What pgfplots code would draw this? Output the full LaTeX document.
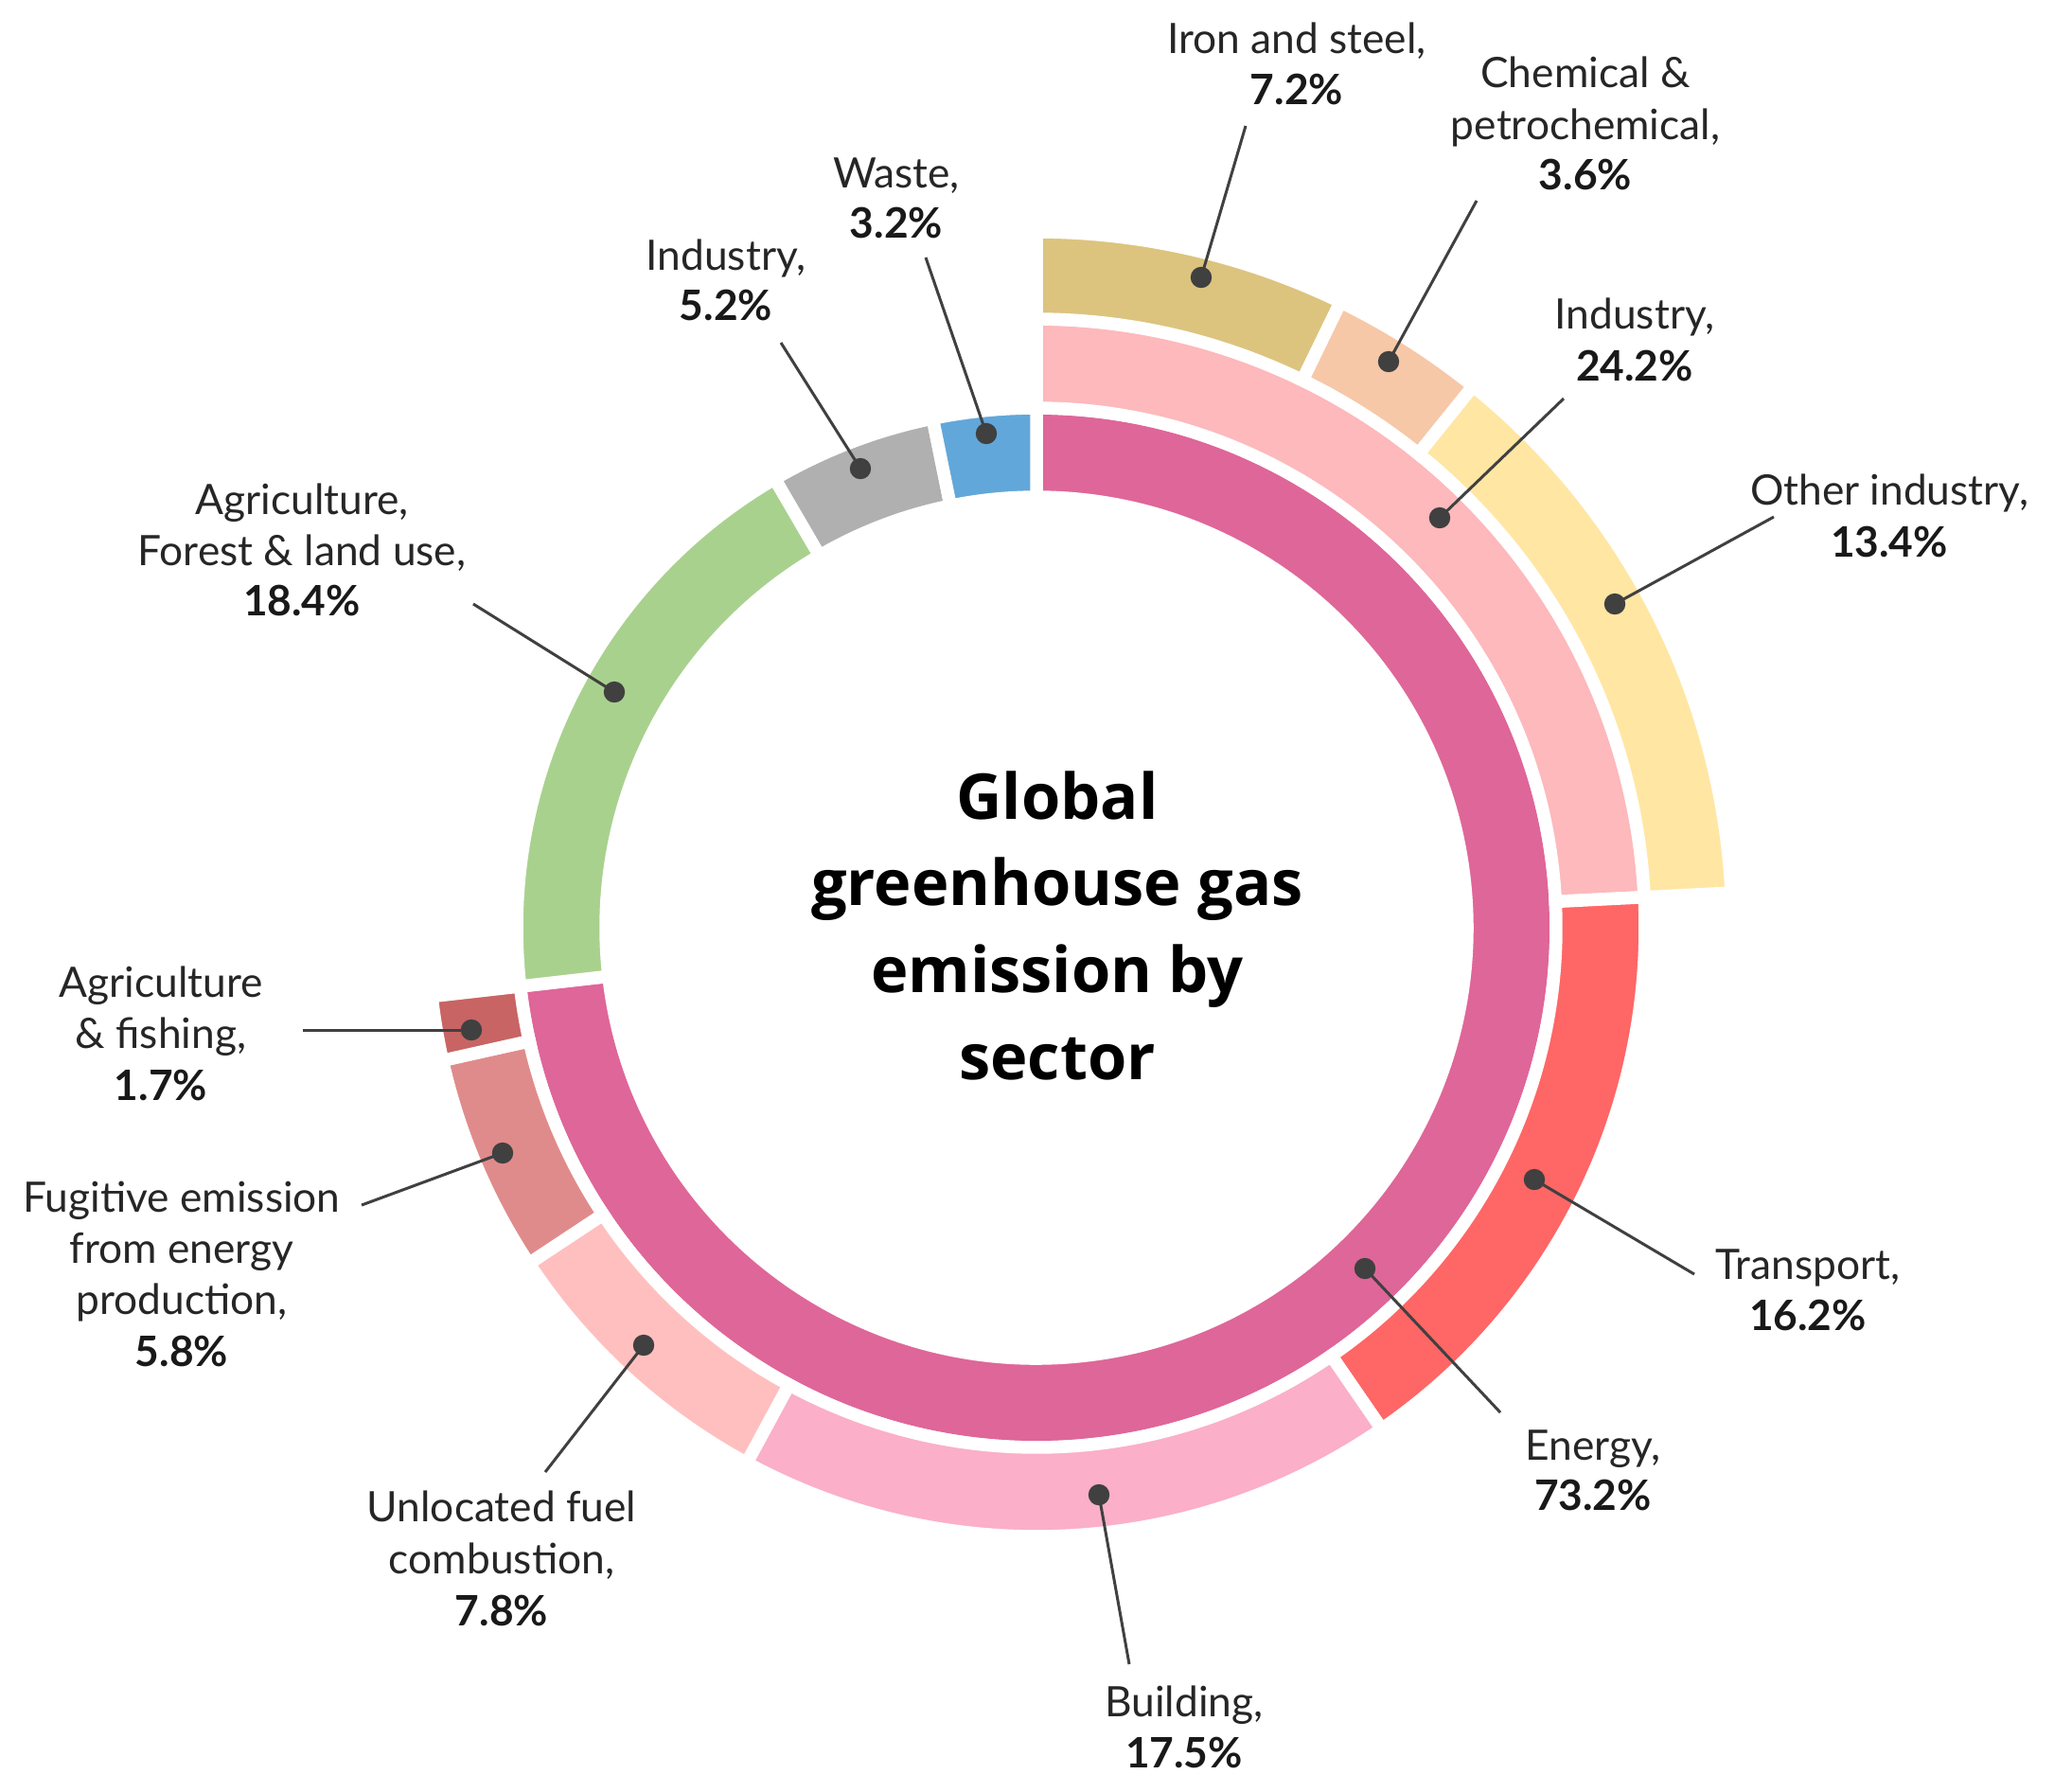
\documentclass[border=0pt]{standalone}
\usepackage{pgfplots}
\pgfplotsset{compat=1.18}
\usepackage{fontspec}
\setmainfont{Lato}
\newfontfamily\tfont{Open Sans}
\usetikzlibrary{calc}

\definecolor{energy}{HTML}{DF6699}
\definecolor{agri}{HTML}{A9D18E}
\definecolor{indgray}{HTML}{B0B0B0}
\definecolor{waste}{HTML}{62A7DA}
\definecolor{indpink}{HTML}{FDB9BC}
\definecolor{transport}{HTML}{FF6666}
\definecolor{building}{HTML}{FBAFC8}
\definecolor{unloc}{HTML}{FFBFBF}
\definecolor{fugitive}{HTML}{E08B8B}
\definecolor{agrifish}{HTML}{C86464}
\definecolor{iron}{HTML}{DCC47F}
\definecolor{chem}{HTML}{F6C8A8}
\definecolor{other}{HTML}{FFE6A3}
\definecolor{dotc}{HTML}{404040}

% running sum of percentages within a ring
\gdef\cum{0}
\newcommand{\seg}[4]{% pct, r_in, r_out, colour
  \pgfmathsetmacro{\aS}{90-3.6*\cum}%
  \pgfmathsetmacro{\aE}{90-3.6*(\cum+#1)}%
  \edef\temp{\noexpand\fill[#4, draw=white, line width=1.35mm, line join=miter]
    ($(axis cs:1095,980)+(\aS:#3)$) arc[start angle=\aS, end angle=\aE, radius=#3]
    -- ($(axis cs:1095,980)+(\aE:#2)$) arc[start angle=\aE, end angle=\aS, radius=#2] -- cycle;}%
  \temp
  \pgfmathsetmacro{\tmp}{\cum+#1}\xdef\cum{\tmp}%
}
\newcommand{\lt}[3]{\node[anchor=base, font=\fontsize{12.6}{15.4}\selectfont, text=black!85] at (axis cs:#1,#2) {#3};}
\newcommand{\lb}[3]{\node[anchor=base, font=\fontsize{12.6}{15.4}\selectfont\bfseries, text=black!90] at (axis cs:#1,#2) {#3};}
\newcommand{\tl}[2]{\node[anchor=base, font=\tfont\fontsize{19}{22}\selectfont\bfseries] at (axis cs:1117,#1) {#2};}

\begin{document}
\begin{tikzpicture}
\begin{axis}[
  scale only axis, width=217mm, height=189.2mm,
  xmin=0, xmax=2170, ymin=0, ymax=1892, y dir=reverse,
  hide axis, clip=false]

% fixed picture frame (invisible)
\path (axis cs:0,0) rectangle (axis cs:2170,1892);

% inner ring
\gdef\cum{0}
\seg{73.2}{45.5mm}{54.9mm}{energy}
\seg{18.4}{45.5mm}{54.9mm}{agri}
\seg{5.2}{45.5mm}{54.9mm}{indgray}
\seg{3.2}{45.5mm}{54.9mm}{waste}
% middle ring (energy breakdown)
\gdef\cum{0}
\seg{24.2}{54.9mm}{64.3mm}{indpink}
\seg{16.2}{54.9mm}{64.3mm}{transport}
\seg{17.5}{54.9mm}{64.3mm}{building}
\seg{7.8}{54.9mm}{64.3mm}{unloc}
\seg{5.8}{54.9mm}{64.3mm}{fugitive}
\seg{1.7}{54.9mm}{64.3mm}{agrifish}
% outer ring (industry breakdown)
\gdef\cum{0}
\seg{7.2}{64.3mm}{73.5mm}{iron}
\seg{3.6}{64.3mm}{73.5mm}{chem}
\seg{13.4}{64.3mm}{73.5mm}{other}

% leader lines
\pgfplotsset{leader/.style={no marks, line width=0.3mm, dotc}}
\addplot[leader] coordinates {(1269,293) (1316,133)};
\addplot[leader] coordinates {(1467,382) (1560,212)};
\addplot[leader] coordinates {(1521,547) (1652,421)};
\addplot[leader] coordinates {(1706,638) (1874,546)};
\addplot[leader] coordinates {(1621,1246) (1790,1346)};
\addplot[leader] coordinates {(1442,1340) (1585,1492)};
\addplot[leader] coordinates {(1161,1579) (1193,1758)};
\addplot[leader] coordinates {(680,1421) (576,1555)};
\addplot[leader] coordinates {(531,1218) (382,1273)};
\addplot[leader] coordinates {(498,1088) (320,1088)};
\addplot[leader] coordinates {(649,731) (500,638)};
\addplot[leader] coordinates {(909,495) (825,362)};
\addplot[leader] coordinates {(1042,458) (978,272)};

% dots
\addplot[only marks, mark=*, mark size=1.05mm, dotc] coordinates {
(1269,293) (1467,382) (1521,547) (1706,638) (1621,1246) (1442,1340)
(1161,1579) (680,1421) (531,1218) (498,1088) (649,731) (909,495) (1042,458)};

% labels
\lt{1370}{56}{Iron and steel,}\lb{1370}{110}{7.2\%}
\lt{1675}{92}{Chemical \&}\lt{1675}{147}{petrochemical,}\lb{1675}{200}{3.6\%}
\lt{1727}{347}{Industry,}\lb{1727}{402}{24.2\%}
\lt{1996}{533}{Other industry,}\lb{1996}{588}{13.4\%}
\lt{1910}{1351}{Transport,}\lb{1910}{1405}{16.2\%}
\lt{1683}{1542}{Energy,}\lb{1683}{1595}{73.2\%}
\lt{1251}{1813}{Building,}\lb{1251}{1867}{17.5\%}
\lt{530}{1607}{Unlocated fuel}\lt{530}{1662}{combustion,}\lb{530}{1717}{7.8\%}
\lt{192}{1280}{Fugitive emission}\lt{192}{1334}{from energy}\lt{192}{1388}{production,}\lb{192}{1443}{5.8\%}
\lt{170}{1053}{Agriculture}\lt{170}{1107}{\& fishing,}\lb{170}{1162}{1.7\%}
\lt{319}{543}{Agriculture,}\lt{319}{597}{Forest \& land use,}\lb{319}{650}{18.4\%}
\lt{767}{285}{Industry,}\lb{767}{338}{5.2\%}
\lt{947}{198}{Waste,}\lb{947}{251}{3.2\%}

% title
\tl{865}{Global}
\tl{956}{greenhouse gas}
\tl{1048}{emission by}
\tl{1140}{sector}
\end{axis}
\end{tikzpicture}
\end{document}
